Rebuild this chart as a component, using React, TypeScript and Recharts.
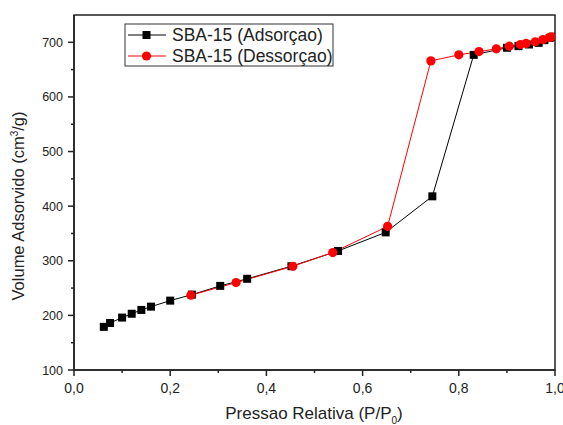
import React from 'react';
import { LineChart, Line, XAxis, YAxis, ReferenceArea } from 'recharts';

const adsX = [0.062, 0.075, 0.1, 0.12, 0.14, 0.16, 0.2, 0.245, 0.304, 0.36, 0.452, 0.549, 0.648, 0.745, 0.831, 0.9, 0.924, 0.946, 0.966, 0.978, 0.989, 0.995];
const adsY = [179, 186, 196, 203, 210, 216, 227, 238, 254, 267, 290, 318, 352, 418, 677, 690, 693, 696, 699, 704, 708, 710];
const desX = [0.243, 0.337, 0.455, 0.538, 0.652, 0.742, 0.8, 0.842, 0.878, 0.905, 0.928, 0.94, 0.959, 0.975, 0.989, 0.993];
const desY = [237, 260, 290, 315, 363, 666, 677, 683, 688, 693, 696, 698, 701, 705, 709, 710];

const xTicks = [0, 0.1, 0.2, 0.3, 0.4, 0.5, 0.6, 0.7, 0.8, 0.9, 1.0];
const xMajor = [0, 0.2, 0.4, 0.6, 0.8, 1.0];
const yTicks = [100, 150, 200, 250, 300, 350, 400, 450, 500, 550, 600, 650, 700];
const yMajor = [100, 200, 300, 400, 500, 600, 700];

const seriesNames = ['SBA-15 (Adsorçao)', 'SBA-15 (Dessorçao)'];

const adsData = adsX.map((x, i) => ({ x, y: adsY[i] }));
const desData = desX.map((x, i) => ({ x, y: desY[i] }));

const FONT = '"Liberation Sans", Arial, sans-serif';
const AXIS = '#222';

const XTick = (props: any) => {
  const { x, y, payload } = props;
  const v = payload.value;
  const major = xMajor.some((m) => Math.abs(m - v) < 1e-6);
  const ay = y - 8;
  return (
    <g>
      <line x1={x} x2={x} y1={ay} y2={ay + (major ? 6 : 3)} stroke={AXIS} strokeWidth={1.5} />
      {major && (
        <text x={x} y={ay + 23} textAnchor="middle" fontSize={14} fontFamily={FONT} fill="#222">
          {v.toFixed(1).replace('.', ',')}
        </text>
      )}
    </g>
  );
};

const YTick = (props: any) => {
  const { x, y, payload } = props;
  const v = payload.value;
  const major = yMajor.includes(v);
  const ax = x + 8;
  return (
    <g>
      <line x1={ax} x2={ax - (major ? 6 : 3)} y1={y} y2={y} stroke={AXIS} strokeWidth={1.5} />
      {major && (
        <text x={ax - 11} y={y} dy="0.36em" textAnchor="end" fontSize={12.5} fontFamily={FONT} fill="#222">
          {v}
        </text>
      )}
    </g>
  );
};

const SquareDot = (props: any) => {
  const { cx, cy } = props;
  if (cx == null || cy == null) return null;
  return <rect x={cx - 4} y={cy - 4} width={8} height={8} fill="#000" />;
};

const CircleDot = (props: any) => {
  const { cx, cy } = props;
  if (cx == null || cy == null) return null;
  return <circle cx={cx} cy={cy} r={4.6} fill="#ff0000" />;
};

export default function App() {
  return (
    <div style={{ position: 'absolute', left: 0, top: 0, width: 563, height: 425, background: '#fff' }}>
      <LineChart width={563} height={425} margin={{ top: 15, right: 8, bottom: 0, left: 0 }}>
        <XAxis
          type="number"
          dataKey="x"
          domain={[0, 1]}
          ticks={xTicks}
          tick={<XTick />}
          tickLine={false}
          tickSize={6}
          tickMargin={2}
          axisLine={{ stroke: AXIS, strokeWidth: 1.5 }}
          height={55}
          allowDataOverflow
          interval={0}
        />
        <YAxis
          type="number"
          dataKey="y"
          domain={[100, 750]}
          ticks={yTicks}
          tick={<YTick />}
          tickLine={false}
          tickSize={6}
          tickMargin={2}
          axisLine={{ stroke: AXIS, strokeWidth: 1.5 }}
          width={74}
          allowDataOverflow
          interval={0}
        />
        <ReferenceArea x1={0} x2={1} y1={100} y2={750} fill="none" stroke={AXIS} strokeWidth={1.5} fillOpacity={0} />
        <Line
          data={adsData}
          dataKey="y"
          type="linear"
          stroke="#000"
          strokeWidth={1}
          dot={<SquareDot />}
          activeDot={false}
          isAnimationActive={false}
          name={seriesNames[0]}
        />
        <Line
          data={desData}
          dataKey="y"
          type="linear"
          stroke="#ff0000"
          strokeWidth={1}
          dot={<CircleDot />}
          activeDot={false}
          isAnimationActive={false}
          name={seriesNames[1]}
        />
      </LineChart>
      <svg width={563} height={425} style={{ position: 'absolute', left: 0, top: 0, pointerEvents: 'none' }}>
        <text x={314} y={419} textAnchor="middle" fontSize={17} fontFamily={FONT} fill="#222">
          Pressao Relativa (P/P<tspan fontSize={10} dy={5}>0</tspan><tspan dy={-5}>)</tspan>
        </text>
        <text
          transform="translate(24,206) rotate(-90)"
          textAnchor="middle"
          fontSize={16.5}
          fontFamily={FONT}
          fill="#222"
        >
          Volume Adsorvido (cm<tspan fontSize={10} dy={-6}>3</tspan><tspan dy={6}>/g)</tspan>
        </text>
        <rect x={125} y={24} width={208} height={42} fill="#fff" stroke="#333" strokeWidth={1} />
        <line x1={128} x2={166} y1={35} y2={35} stroke="#000" strokeWidth={1} />
        <rect x={142.5} y={31} width={8} height={8} fill="#000" />
        <text x={172} y={35} dy="0.36em" fontSize={17.5} fontFamily={FONT} fill="#222">{seriesNames[0]}</text>
        <line x1={128} x2={166} y1={56} y2={56} stroke="#ff0000" strokeWidth={1} />
        <circle cx={146.5} cy={56} r={4.6} fill="#ff0000" />
        <text x={172} y={56} dy="0.36em" fontSize={17.5} fontFamily={FONT} fill="#222">{seriesNames[1]}</text>
      </svg>
    </div>
  );
}
